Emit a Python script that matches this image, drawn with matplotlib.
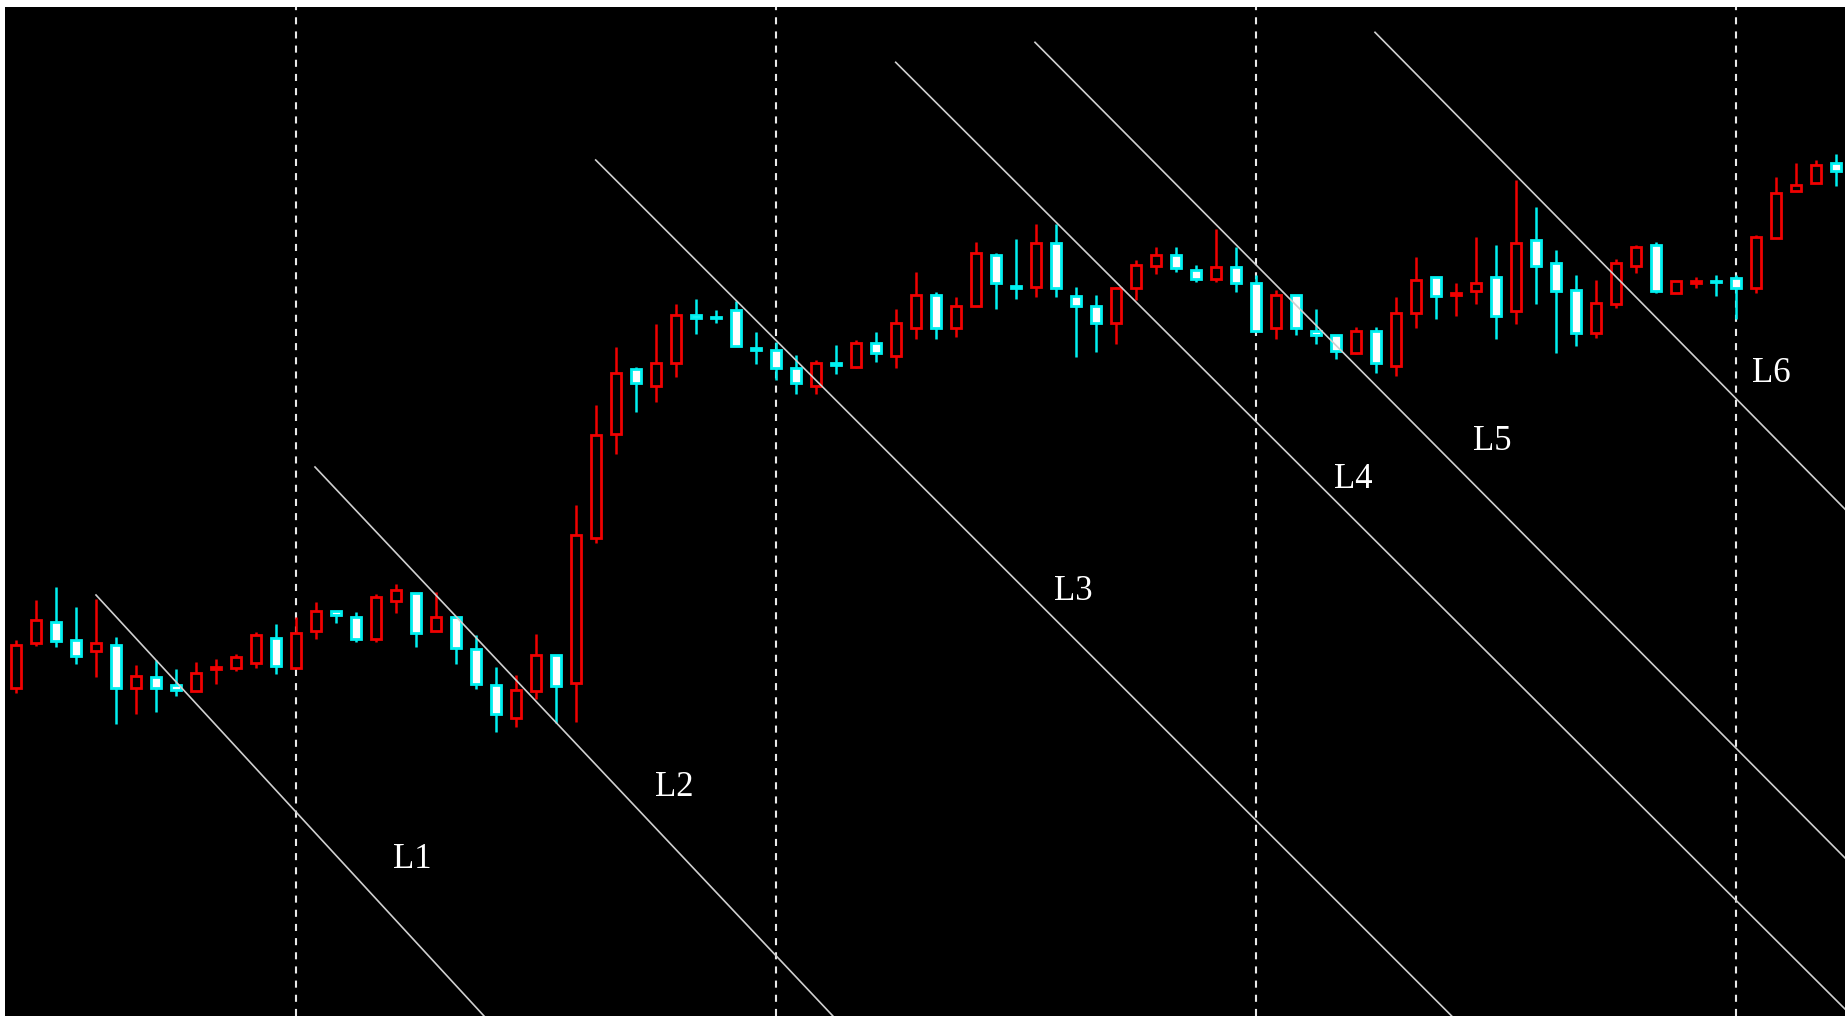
import matplotlib.pyplot as plt

# candle data (one bar per period)
opens = [412, 457, 478, 460, 449, 455, 412, 423, 415, 409,
         431, 432, 437, 462, 432, 469, 489, 483, 461, 499,
         507, 469, 483, 451, 415, 382, 409, 445, 417, 562,
         666, 731, 714, 737, 785, 783, 790, 752, 750, 732,
         714, 737, 733, 757, 744, 772, 805, 772, 794, 845,
         814, 813, 857, 804, 794, 777, 812, 834, 845, 830,
         821, 833, 817, 772, 805, 769, 765, 747, 769, 734,
         787, 823, 805, 809, 823, 789, 860, 837, 810, 767,
         796, 834, 855, 807, 817, 819, 822, 812, 862, 909,
         917, 937]
highs = [460, 500, 513, 493, 501, 463, 435, 440, 431, 438,
         441, 446, 468, 476, 483, 498, 489, 488, 506, 516,
         507, 508, 483, 465, 433, 425, 466, 445, 595, 695,
         753, 733, 776, 796, 801, 790, 799, 768, 758, 745,
         740, 755, 760, 768, 791, 828, 808, 803, 858, 847,
         861, 876, 876, 813, 805, 813, 840, 853, 853, 835,
         871, 853, 825, 810, 805, 791, 765, 773, 773, 803,
         843, 823, 817, 863, 855, 920, 893, 850, 825, 820,
         841, 855, 858, 819, 823, 825, 825, 865, 923, 937,
         940, 946]
lows = [407, 454, 453, 436, 423, 376, 386, 388, 404, 409,
        416, 429, 432, 426, 432, 461, 477, 458, 458, 487,
        453, 469, 436, 411, 368, 373, 401, 377, 378, 557,
        646, 688, 698, 723, 766, 777, 754, 736, 720, 706,
        706, 726, 732, 738, 732, 761, 761, 763, 794, 791,
        801, 803, 803, 743, 748, 756, 800, 826, 828, 818,
        818, 808, 769, 761, 765, 756, 741, 746, 727, 724,
        772, 781, 784, 796, 761, 776, 796, 747, 754, 762,
        792, 827, 807, 807, 812, 804, 781, 807, 862, 909,
        917, 914]
closes = [455, 480, 459, 444, 457, 412, 424, 412, 410, 427,
          433, 443, 465, 434, 467, 489, 485, 461, 503, 510,
          467, 483, 452, 416, 386, 410, 445, 414, 565, 665,
          727, 717, 737, 785, 782, 782, 754, 750, 732, 717,
          737, 735, 757, 747, 777, 805, 772, 794, 847, 817,
          812, 857, 812, 794, 777, 812, 835, 845, 832, 821,
          833, 817, 769, 805, 772, 765, 749, 769, 737, 787,
          820, 804, 807, 817, 784, 857, 834, 809, 767, 797,
          837, 853, 809, 819, 819, 818, 812, 863, 907, 915,
          935, 929]

# period separators (bar index)
separators = [14, 38, 62, 86]

# trend lines: start (bar, price) -> end (bar, price)
line_names = ['L1', 'L2', 'L3', 'L4', 'L5', 'L6']
line_x0 = [4.0, 14.95, 28.985, 43.985, 50.95, 67.95]
line_y0 = [505, 633, 940, 1037.7, 1057.7, 1067.7]
line_x1 = [24.0, 42.0, 73.0, 92.0, 92.0, 92.0]
line_y1 = [71, 59.5, 59.7, 80, 231, 579.7]
label_x = [19.8, 32.9, 52.85, 66.85, 73.8, 87.75]
label_y = [241, 313, 508, 620, 659, 726]

up_color = '#f00000'
down_color = '#00f0f0'

fig = plt.figure(figsize=(18.45, 10.16), dpi=100, facecolor='white')
ax = fig.add_axes([5 / 1845, 0, 1840 / 1845, 1009 / 1016])
ax.set_facecolor('black')

for s in separators:
    ax.axvline(s, color='#e8e8e8', lw=1.5, linestyle=(0, (3.4, 3.4)), zorder=1)

for i in range(len(opens)):
    o = opens[i]
    h = highs[i]
    l = lows[i]
    c = closes[i]
    if c >= o:
        col = up_color
        face = 'black'
    else:
        col = down_color
        face = 'white'
    ax.vlines(i, l, h, color=col, lw=1.8, zorder=2)
    body = max(abs(c - o), 0.6)
    ax.bar(i, body, bottom=min(o, c), width=0.52, facecolor=face,
           edgecolor=col, lw=2.0, zorder=3)

for k in range(len(line_names)):
    ax.plot([line_x0[k], line_x1[k]], [line_y0[k], line_y1[k]],
            color='#d0d0d0', lw=1.2, zorder=4)
    ax.text(label_x[k], label_y[k], line_names[k], color='white',
            fontsize=25, family='Liberation Serif', ha='center', va='center')

ax.set_xlim(-0.55, 91.45)
ax.set_ylim(84, 1093)
ax.set_xticks([])
ax.set_yticks([])
for sp in ax.spines.values():
    sp.set_visible(False)

fig.savefig('out.png', dpi=100, facecolor='white')
